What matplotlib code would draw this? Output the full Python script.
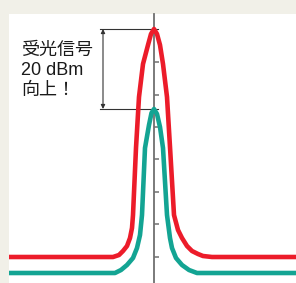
import matplotlib
matplotlib.use("Agg")
import matplotlib.pyplot as plt

# offsets from the peak centre (x) and relative signal level (y)
red_x = [-150, -41, -35, -31, -27, -24, -22, -21, -18, -15, -11, -6, -3, 0,
         3, 6, 9, 13, 16, 20, 24, 28, 33, 38, 44, 49, 58, 150]
red_y = [26, 26, 28, 32, 37, 45, 55, 68, 135, 186, 219, 238, 249, 254,
         249, 238, 219, 186, 136, 68, 53, 45, 37, 32, 29, 27, 26, 26]

teal_x = [-150, -39, -33, -27, -21, -17, -14, -12, -9, -5, -2.5, 0,
          3, 6, 9, 13, 16, 18, 22, 28, 35, 43, 150]
teal_y = [10, 10, 13, 18, 25, 35, 48, 68, 135, 158, 170, 174,
          169, 156, 135, 68, 45, 35, 25, 18, 13, 10, 10]

tick_levels = [26, 59, 91, 124, 156, 188, 221]
label_lines = ["受光信号", "20 dBm", "向上！"]

RED = "#ec1c2a"
TEAL = "#13a493"
BG = "#f1f0e8"

plt.rcParams["font.family"] = ["Liberation Sans", "Noto Sans CJK JP", "DejaVu Sans"]

fig = plt.figure(figsize=(2.96, 2.83), dpi=100, facecolor=BG)
ax = fig.add_axes([9 / 296, 0, 287 / 296, 269 / 283])
ax.set_facecolor("white")
ax.set_xlim(-145, 142)
ax.set_ylim(0, 269)

for s in ["top", "right", "bottom"]:
    ax.spines[s].set_visible(False)
ax.spines["left"].set_position(("data", 0))
ax.spines["left"].set_color("#707070")
ax.spines["left"].set_linewidth(1.3)
ax.set_xticks([])
ax.set_yticks(tick_levels)
ax.set_yticklabels([])
ax.tick_params(axis="y", direction="in", length=3.5, width=1.1, color="#707070")

ax.plot(teal_x, teal_y, color=TEAL, lw=3.3, solid_joinstyle="round", zorder=3)
ax.plot(red_x, red_y, color=RED, lw=3.3, solid_joinstyle="round", zorder=4)

red_peak = max(red_y)
teal_peak = max(teal_y)
ax.plot([-54, 4], [red_peak, red_peak], color="#333333", lw=0.8, zorder=2)
ax.plot([-54, 4], [teal_peak, teal_peak], color="#333333", lw=0.8, zorder=2)
ax.annotate("", xy=(-51, teal_peak), xytext=(-51, red_peak),
            arrowprops=dict(arrowstyle="<|-|>", color="#333333", lw=0.8,
                            mutation_scale=6, shrinkA=0, shrinkB=0))

for i, t in enumerate(label_lines):
    ax.text(-133, 233 - 20.5 * i, t, fontsize=13, color="#1a1a1a",
            ha="left", va="center")

fig.savefig("out.png", dpi=100, facecolor=BG)
